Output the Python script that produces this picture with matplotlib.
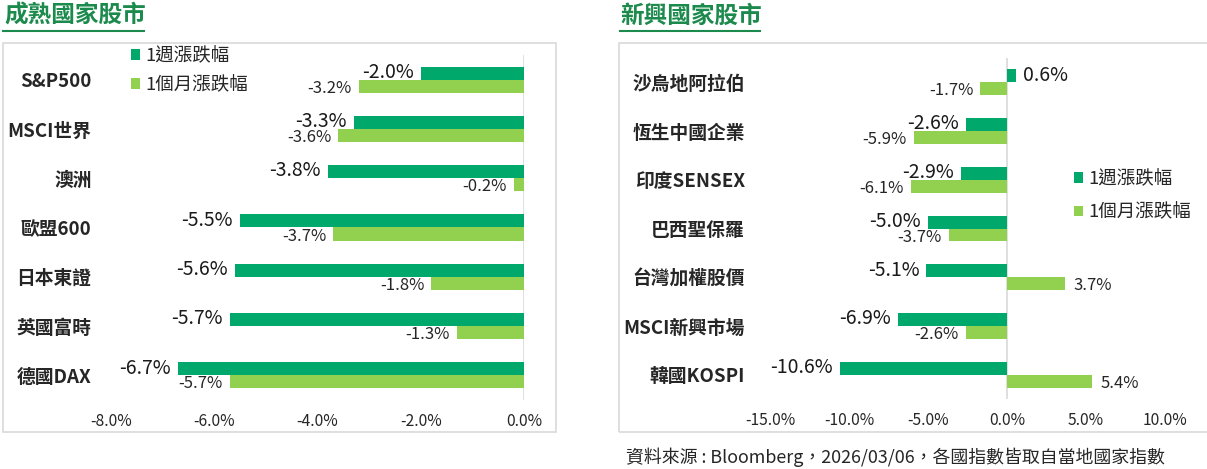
import matplotlib
matplotlib.use("Agg")
import matplotlib.pyplot as plt
from matplotlib.patches import Rectangle
from matplotlib.lines import Line2D
import numpy as np

plt.rcParams['font.family'] = ['Noto Sans CJK TC', 'DejaVu Sans']

# ---------------- data ----------------
dev_title = "成熟國家股市"
dev_categories = ["S&P500", "MSCI世界", "澳洲", "歐盟600", "日本東證", "英國富時", "德國DAX"]
dev_week = [-2.0, -3.3, -3.8, -5.5, -5.6, -5.7, -6.7]
dev_month = [-3.2, -3.6, -0.2, -3.7, -1.8, -1.3, -5.7]
dev_ticks = [-8.0, -6.0, -4.0, -2.0, 0.0]

emg_title = "新興國家股市"
emg_categories = ["沙烏地阿拉伯", "恆生中國企業", "印度SENSEX", "巴西聖保羅", "台灣加權股價", "MSCI新興市場", "韓國KOSPI"]
emg_week = [0.6, -2.6, -2.9, -5.0, -5.1, -6.9, -10.6]
emg_month = [-1.7, -5.9, -6.1, -3.7, 3.7, -2.6, 5.4]
emg_ticks = [-15.0, -10.0, -5.0, 0.0, 5.0, 10.0]

series_names = ["1週漲跌幅", "1個月漲跌幅"]
source_text = "資料來源 : Bloomberg，2026/03/06，各國指數皆取自當地國家指數"

# ---------------- style ----------------
W, H = 1207, 469
DARK = "#00A86B"
LIGHT = "#92D050"
TITLE_GREEN = "#1B8A4C"
TEXT = "#262626"
GRID = "#D9D9D9"

fig = plt.figure(figsize=(W / 100, H / 100), dpi=100)


def fx(px):
    return px / W


def fy(py):
    return 1 - py / H


def panel(rect, cats, week, month, ticks, xlim, ylabel_pad):
    ax = fig.add_axes(rect)
    y = np.arange(len(cats))
    bh = 0.265
    b1 = ax.barh(y - bh / 2, week, height=bh, color=DARK, label=series_names[0])
    b2 = ax.barh(y + bh / 2, month, height=bh, color=LIGHT, label=series_names[1])
    ax.set_xlim(*xlim)
    ax.set_ylim(len(cats) - 0.5, -0.5)
    ax.axvline(0, color=GRID, lw=1.2, zorder=0)
    for s in ax.spines.values():
        s.set_visible(False)
    ax.set_yticks(y)
    ax.set_yticklabels(cats, fontsize=13.5, fontweight='bold', color=TEXT)
    ax.tick_params(axis='y', length=0, pad=ylabel_pad)
    ax.set_xticks(ticks)
    ax.set_xticklabels([f"{t:.1f}%" for t in ticks], fontsize=11.3, color=TEXT)
    ax.tick_params(axis='x', length=0, pad=9)
    for yi, v in zip(y, week):
        off = -5 if v < 0 else 5
        ax.annotate(f"{v:.1f}%", (v, yi - bh / 2), xytext=(off, 0.5), textcoords='offset points',
                    ha='right' if v < 0 else 'left', va='center', fontsize=14,
                    color="#1a1a1a", fontweight='medium')
    for yi, v in zip(y, month):
        off = -5 if v < 0 else 6
        ax.annotate(f"{v:.1f}%", (v, yi + bh / 2), xytext=(off, -1.5), textcoords='offset points',
                    ha='right' if v < 0 else 'left', va='center', fontsize=12, color=TEXT)
    return ax, b1, b2


# left panel
axL, l1, l2 = panel([fx(111), fy(400), fx(413), (400 - 55) / H], dev_categories, dev_week,
                    dev_month, dev_ticks, (-8, 0), 14)
# right panel
axR, r1, r2 = panel([fx(770), fy(399), fx(395), (399 - 58) / H], emg_categories, emg_week,
                    emg_month, emg_ticks, (-15, 10), 18)

axL.legend(handles=[l1, l2], loc='upper left', bbox_to_anchor=(fx(131), fy(47)),
           bbox_transform=fig.transFigure, frameon=False, fontsize=13.3,
           handlelength=0.5, handleheight=0.5, handletextpad=0.3,
           labelspacing=0.6, borderpad=0, borderaxespad=0, labelcolor=TEXT)
axR.legend(handles=[r1, r2], loc='upper left', bbox_to_anchor=(fx(1074), fy(170)),
           bbox_transform=fig.transFigure, frameon=False, fontsize=13.3,
           handlelength=0.5, handleheight=0.5, handletextpad=0.3,
           labelspacing=0.85, borderpad=0, borderaxespad=0, labelcolor=TEXT)

# panel frames
fig.patches.append(Rectangle((fx(2.5), fy(432)), fx(553), (432 - 43) / H, transform=fig.transFigure,
                             fill=False, edgecolor=GRID, lw=1.2, zorder=0))
fig.patches.append(Rectangle((fx(618.5), fy(432)), fx(600), (432 - 43) / H, transform=fig.transFigure,
                             fill=False, edgecolor=GRID, lw=1.2, zorder=0))

# titles with underline
fig.text(fx(4), fy(16), dev_title, fontsize=17, fontweight='bold', color=TITLE_GREEN,
         ha='left', va='center')
fig.text(fx(620), fy(16), emg_title, fontsize=17, fontweight='bold', color=TITLE_GREEN,
         ha='left', va='center')
fig.lines.append(Line2D([fx(3), fx(144)], [fy(31), fy(31)], transform=fig.transFigure,
                        color=TITLE_GREEN, lw=1.5))
fig.lines.append(Line2D([fx(620), fx(760)], [fy(31), fy(31)], transform=fig.transFigure,
                        color=TITLE_GREEN, lw=1.5))

# source
fig.text(fx(626), fy(457), source_text, fontsize=12.9, color=TEXT, ha='left', va='center')

fig.savefig("out.png", dpi=100, facecolor='white')
